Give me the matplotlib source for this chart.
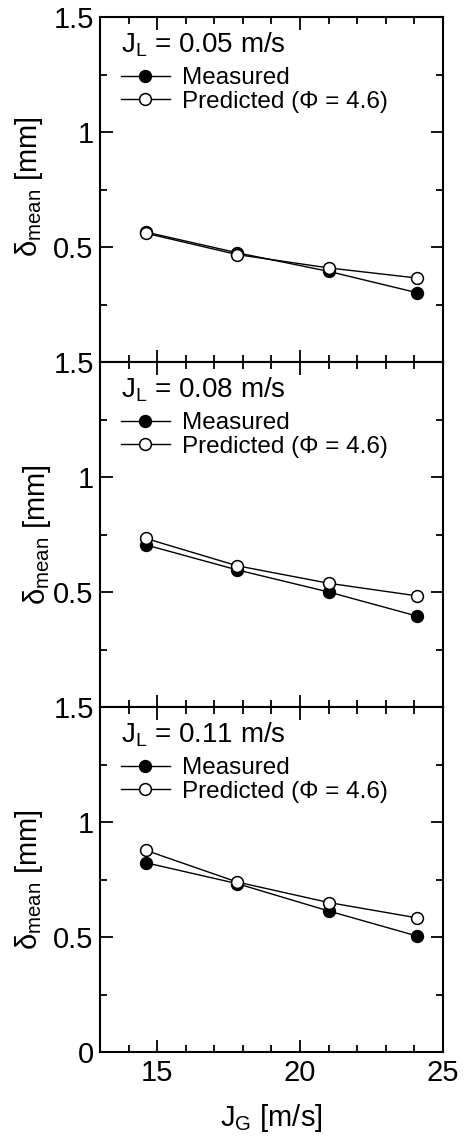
import matplotlib
matplotlib.use('Agg')
import matplotlib.pyplot as plt
from matplotlib.ticker import MultipleLocator

plt.rcParams['font.family'] = ['Liberation Sans', 'DejaVu Sans']
plt.rcParams['mathtext.fontset'] = 'custom'
plt.rcParams['mathtext.rm'] = 'Liberation Sans'
plt.rcParams['mathtext.it'] = 'Liberation Sans'

# Gas superficial velocity J_G [m/s]
jg = [14.6, 17.8, 21.0, 24.1]

# Liquid superficial velocities, one panel each
jl_labels = ['0.05', '0.08', '0.11']

# Mean film thickness [mm]
medido = [
    [0.565, 0.475, 0.394, 0.301],
    [0.705, 0.596, 0.500, 0.395],
    [0.823, 0.732, 0.613, 0.504],
]
predicho = [
    [0.560, 0.467, 0.409, 0.365],
    [0.733, 0.614, 0.538, 0.483],
    [0.877, 0.739, 0.650, 0.583],
]

fig = plt.figure(figsize=(4.75, 11.4), dpi=100)

izq = 100 / 475
ancho = 343 / 475
alto = 345 / 1140
arriba = 1 - 17 / 1140

# posicion de la etiqueta del eje y en cada panel
ylab_x = [-0.207, -0.184, -0.207]
ylab_y = [0.51, 0.50, 0.50]

ejes = []
for i in range(3):
    ax = fig.add_axes([izq, arriba - (i + 1) * alto, ancho, alto])
    ejes.append(ax)

    ax.plot(jg, medido[i], '-o', color='black', lw=1.0, ms=8.5,
            mfc='black', mec='black', mew=1.1, label='Measured', zorder=3)
    ax.plot(jg, predicho[i], '-o', color='black', lw=1.0, ms=8.5,
            mfc='white', mec='black', mew=1.1, label='Predicted (Φ = 4.6)', zorder=4)

    ax.set_xlim(13, 25)
    ax.set_ylim(0, 1.5)
    ax.xaxis.set_major_locator(MultipleLocator(5))
    ax.xaxis.set_minor_locator(MultipleLocator(1))
    ax.yaxis.set_major_locator(MultipleLocator(0.5))
    ax.yaxis.set_minor_locator(MultipleLocator(0.25))
    ax.tick_params(which='both', direction='in', top=True, right=True,
                   width=1.3, labelsize=21)
    ax.tick_params(axis='x', pad=5)
    ax.tick_params(axis='y', pad=4.5)
    ax.tick_params(which='major', length=9)
    ax.tick_params(which='minor', length=5)
    for s in ax.spines.values():
        s.set_linewidth(1.5)

    ax.set_yticks([0, 0.5, 1, 1.5])
    if i < 2:
        ax.set_yticklabels(['', '0.5', '1', '1.5'])
        ax.tick_params(axis='x', labelbottom=False)
    else:
        ax.set_yticklabels(['0', '0.5', '1', '1.5'])

    ax.text(ylab_x[i], ylab_y[i], 'δ$_{\\mathrm{mean}}$ [mm]', transform=ax.transAxes,
            rotation=90, ha='center', va='center', fontsize=21)

    ax.text(0.061, 0.896, 'J$_{\\mathrm{L}}$ = ' + jl_labels[i] + ' m/s',
            transform=ax.transAxes, ha='left', va='baseline', fontsize=20)
    ax.legend(loc='upper left', bbox_to_anchor=(0.047, 0.868), frameon=False,
              fontsize=17.5, handlelength=2.0, handletextpad=0.53,
              labelspacing=0.05, borderaxespad=0, borderpad=0.2)

ejes[2].set_xlabel('J$_{\\mathrm{G}}$ [m/s]', fontsize=21, labelpad=11)

plt.savefig('out.png', dpi=100)
